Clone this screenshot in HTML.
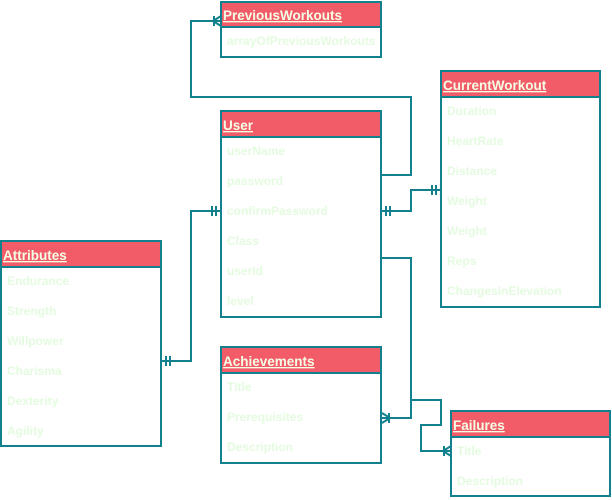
<!DOCTYPE html>
<html><head><meta charset="utf-8"><style>
body{margin:0;background:#fff}
svg{display:block}
.h{font:bold 13.5px "Liberation Sans",sans-serif;fill:#f4ffe6;text-decoration:underline}
.t{font:bold 12px "Liberation Sans",sans-serif;fill:#e4fbe0}
.b{fill:#fff;stroke:#13808d;stroke-width:2}
.hd{fill:#f25c69;stroke:#13808d;stroke-width:2}
.l{fill:none;stroke:#13808d;stroke-width:2}
</style></head><body>
<svg width="612" height="500" xmlns="http://www.w3.org/2000/svg">
<!-- connectors -->
<path class="l" d="M382 175H411V97H191V21H221"/>
<path class="l" d="M213 21L221 16M213 21L221 26M214 16V26"/>
<path class="l" d="M382 211H411V190H441"/>
<path class="l" d="M386 206V216M390 206V216M432 185V195M436 185V195"/>
<path class="l" d="M161 361H191V211H221"/>
<path class="l" d="M166 356V366M170 356V366M212 206V216M216 206V216"/>
<path class="l" d="M382 258H411V400H441V425H421V451H451"/>
<path class="l" d="M382 418H411V400"/>
<path class="l" d="M390 418L382 413M390 418L382 423M389 413V423"/>
<path class="l" d="M443 451L451 446M443 451L451 456M444 446V456"/>
<!-- PreviousWorkouts -->
<rect class="b" x="221" y="2" width="160" height="55"/>
<rect class="hd" x="221" y="2" width="160" height="25"/>
<text class="h" x="223" y="20">PreviousWorkouts</text>
<text class="t" x="227" y="45">arrayOfPreviousWorkouts</text>
<!-- User -->
<rect class="b" x="221" y="111" width="160" height="206"/>
<rect class="hd" x="221" y="111" width="160" height="26"/>
<text class="h" x="223" y="130">User</text>
<text class="t" x="227" y="155">userName</text>
<text class="t" x="227" y="185">password</text>
<text class="t" x="227" y="215">confirmPassword</text>
<text class="t" x="227" y="245">Class</text>
<text class="t" x="227" y="275">userId</text>
<text class="t" x="227" y="305">level</text>
<!-- CurrentWorkout -->
<rect class="b" x="441" y="71" width="159" height="236"/>
<rect class="hd" x="441" y="71" width="159" height="26"/>
<text class="h" x="443" y="90">CurrentWorkout</text>
<text class="t" x="447" y="115">Duration</text>
<text class="t" x="447" y="145">HeartRate</text>
<text class="t" x="447" y="175">Distance</text>
<text class="t" x="447" y="205">Weight</text>
<text class="t" x="447" y="235">Weight</text>
<text class="t" x="447" y="265">Reps</text>
<text class="t" x="447" y="295">ChangesInElevation</text>
<!-- Attributes -->
<rect class="b" x="1" y="241" width="160" height="205"/>
<rect class="hd" x="1" y="241" width="160" height="26"/>
<text class="h" x="3" y="260">Attributes</text>
<text class="t" x="7" y="285">Endurance</text>
<text class="t" x="7" y="315">Strength</text>
<text class="t" x="7" y="345">Willpower</text>
<text class="t" x="7" y="375">Charisma</text>
<text class="t" x="7" y="405">Dexterity</text>
<text class="t" x="7" y="435">Agility</text>
<!-- Achievements -->
<rect class="b" x="221" y="347" width="160" height="116"/>
<rect class="hd" x="221" y="347" width="160" height="26"/>
<text class="h" x="223" y="366">Achievements</text>
<text class="t" x="227" y="391">Title</text>
<text class="t" x="227" y="421">Prerequisites</text>
<text class="t" x="227" y="451">Description</text>
<!-- Failures -->
<rect class="b" x="451" y="411" width="159" height="85"/>
<rect class="hd" x="451" y="411" width="159" height="26"/>
<text class="h" x="453" y="430">Failures</text>
<text class="t" x="457" y="455">Title</text>
<text class="t" x="457" y="485">Description</text>
</svg>
</body></html>
